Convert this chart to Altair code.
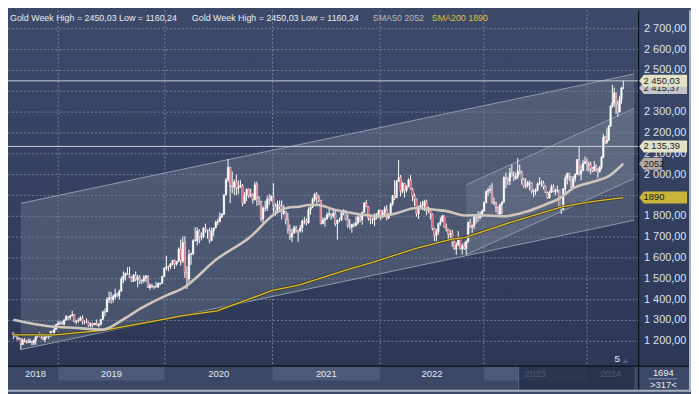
import altair as alt
import numpy as np
import pandas as pd

# ---------------- data: weekly gold candles (week starting Monday) ----------------
first_week = "2018-07-16"
first_open = 1241

close_2018 = [1231,1223,1214,1212,1184,1206,1201,1196,1194,1199,1192,1203,1222,1227,1233,1233,1209,1222,1223,1222,1248,1238,1257,1281,1285]
high_2018 = [1242,1235,1228,1220,1215,1214,1215,1206,1212,1212,1204,1209,1233,1233,1243,1240,1237,1226,1230,1229,1250,1251,1266,1283,1298]
low_2018 = [1211,1220,1204,1205,1160.24,1183,1194,1189,1191,1194,1180,1182,1183,1217,1222,1211,1205,1196,1214,1211,1221,1234,1237,1256,1276]

close_2019 = [1288,1282,1303,1318,1314,1322,1328,1294,1298,1302,1313,1292,1291,1290,1276,1286,1279,1286,1277,1283,1305,1341,1341,1400,1409,1399,1415,1426,1419,1440,1497,1513,1526,1520,1507,1488,1517,1497,1505,1489,1490,1505,1514,1458,1468,1462,1464,1460,1476,1479,1510,1552]
high_2019 = [1297,1298,1304,1326,1320,1326,1346,1330,1299,1311,1320,1324,1300,1310,1295,1288,1289,1289,1304,1286,1306,1348,1358,1411,1439,1437,1425,1453,1434,1449,1510,1535,1530,1555,1557,1512,1523,1535,1519,1517,1498,1518,1516,1515,1478,1476,1466,1485,1483,1481,1514,1553]
low_2019 = [1279,1280,1276,1298,1302,1302,1320,1290,1281,1289,1298,1281,1281,1287,1270,1266,1267,1278,1274,1266,1275,1305,1320,1340,1384,1381,1385,1402,1412,1400,1440,1480,1491,1518,1503,1484,1485,1488,1459,1475,1474,1480,1485,1456,1446,1456,1450,1457,1457,1469,1476,1508]

close_2020 = [1557,1557,1571,1589,1570,1584,1643,1585,1674,1530,1499,1617,1620,1683,1683,1729,1700,1702,1743,1734,1730,1684,1730,1744,1771,1775,1798,1810,1902,1975,2035,1944,1940,1964,1934,1940,1950,1862,1900,1930,1899,1902,1879,1951,1889,1871,1788,1839,1839,1881,1877,1895]
high_2020 = [1611,1563,1576,1590,1592,1585,1650,1689,1703,1704,1560,1640,1626,1690,1747,1747,1738,1722,1748,1765,1736,1745,1745,1746,1779,1789,1818,1815,1906,1984,2075,2038,2015,1977,2000,1973,1973,1955,1917,1933,1933,1932,1911,1965,1966,1897,1875,1848,1875,1897,1907,1901]
low_2020 = [1540,1536,1546,1564,1547,1563,1580,1563,1576,1504,1451,1482,1567,1613,1680,1660,1670,1683,1694,1721,1693,1670,1680,1704,1742,1757,1771,1791,1806,1902,1964,1863,1911,1902,1902,1906,1936,1848,1860,1873,1888,1890,1860,1876,1850,1854,1775,1764,1823,1825,1856,1870]

close_2021 = [1850,1828,1856,1848,1814,1824,1784,1734,1700,1719,1745,1732,1729,1744,1777,1777,1768,1831,1844,1881,1905,1891,1877,1764,1781,1787,1808,1812,1802,1814,1763,1780,1781,1817,1827,1787,1754,1750,1761,1757,1768,1796,1783,1818,1864,1846,1792,1783,1784,1798,1811,1829]
high_2021 = [1959,1863,1875,1876,1876,1855,1824,1816,1760,1740,1755,1755,1733,1758,1784,1797,1790,1843,1846,1890,1913,1916,1903,1878,1795,1795,1818,1834,1813,1832,1832,1784,1795,1823,1834,1827,1809,1787,1764,1770,1800,1814,1810,1823,1868,1877,1849,1808,1793,1815,1815,1831]
low_2021 = [1817,1803,1826,1832,1785,1806,1761,1717,1687,1676,1718,1720,1677,1721,1723,1761,1756,1765,1808,1839,1870,1855,1866,1761,1762,1750,1784,1795,1784,1791,1753,1688,1772,1778,1805,1781,1745,1737,1721,1746,1750,1760,1771,1759,1817,1845,1778,1762,1763,1753,1785,1789]

close_2022 = [1797,1817,1835,1791,1808,1860,1898,1889,1966,1988,1921,1958,1925,1946,1975,1931,1897,1883,1811,1846,1853,1851,1872,1840,1827,1811,1742,1708,1727,1766,1775,1802,1747,1737,1712,1717,1675,1643,1661,1695,1644,1657,1645,1681,1771,1751,1755,1797,1797,1793,1798,1824]
high_2022 = [1831,1830,1848,1854,1815,1865,1902,1974,1974,2070,1998,1966,1960,1948,1982,1998,1936,1910,1885,1850,1870,1874,1879,1880,1847,1834,1814,1745,1739,1767,1795,1807,1803,1765,1740,1735,1735,1688,1675,1729,1697,1668,1675,1683,1774,1787,1760,1810,1810,1824,1823,1833]
low_2022 = [1782,1792,1805,1780,1788,1807,1850,1878,1889,1966,1895,1910,1890,1915,1939,1928,1872,1850,1798,1787,1837,1829,1825,1805,1816,1784,1732,1681,1680,1711,1754,1773,1745,1727,1688,1691,1654,1639,1615,1659,1640,1617,1638,1616,1671,1744,1721,1740,1765,1773,1785,1797]

close_2023 = [1865,1920,1926,1928,1865,1865,1842,1811,1856,1868,1988,1978,1969,2007,1993,1983,1990,2017,2010,1977,1946,1948,1962,1958,1921,1919,1925,1955,1961,1959,1943,1914,1889,1915,1940,1919,1924,1925,1849,1833,1932,1982,2006,1992,1940,1981,2001,2072,2004,2019,2053,2062]
high_2023 = [1870,1922,1937,1949,1959,1890,1870,1847,1859,1871,1990,2009,1987,2032,2048,2015,2009,2079,2048,2019,1985,1983,1970,1972,1963,1930,1935,1963,1987,1974,1970,1948,1918,1923,1953,1953,1932,1947,1926,1849,1934,1997,2009,2009,1993,1993,2007,2075,2135.39,2047,2071,2088]
low_2023 = [1823,1864,1896,1911,1861,1853,1819,1809,1804,1810,1866,1935,1949,1950,1992,1969,1975,1978,2000,1952,1937,1932,1938,1925,1910,1893,1902,1920,1950,1942,1928,1911,1885,1884,1912,1915,1901,1913,1846,1810,1833,1908,1953,1970,1932,1931,1965,2001,1995,1973,2016,2053]

close_2024 = [2049,2049,2029,2018,2039,2024,2013,2035,2083,2179,2156,2165,2233,2329,2344,2392,2338,2301,2360,2415,2415.37]
high_2024 = [2078,2062,2062,2036,2065,2049,2031,2041,2088,2195,2185,2222,2236,2331,2431,2417,2394,2354,2378,2422,2450.03]
low_2024 = [2017,2013,2002,2011,2016,2015,1984,2011,2024,2079,2146,2146,2164,2229,2320,2324,2291,2277,2298,2340,2410]

# moving averages
sma50_dates = ["2018-07-16","2018-11-26","2019-02-11","2019-06-03","2019-08-09","2019-10-15","2020-01-12","2020-02-26",
               "2020-06-27","2020-10-15","2021-01-12","2021-02-25","2021-03-31","2021-05-03","2021-06-05","2021-07-30",
               "2021-09-12","2022-01-01","2022-02-27","2022-05-07","2022-07-15","2022-08-19","2022-10-26","2022-12-23",
               "2023-03-13","2023-06-02","2023-08-10","2023-09-26","2023-11-11","2024-01-19","2024-03-28","2024-05-20"]
sma50_vals = [1303,1272,1266,1256,1303,1361,1424,1450,1596,1698,1815,1842,1846,1854,1854,1831,
              1819,1800,1815,1840,1831,1826,1804,1805,1800,1823,1858,1886,1933,1964,1995,2052]
sma200_dates = ["2018-07-16","2018-12-18","2019-06-03","2020-01-01","2020-02-26","2020-06-27","2021-01-01","2021-03-31",
                "2021-09-12","2021-12-09","2022-05-07","2022-09-11","2022-10-26","2023-04-17","2023-10-07","2024-01-19","2024-05-20"]
sma200_vals = [1231,1231,1252,1306,1322,1346,1444,1470,1544,1580,1646,1690,1698,1776,1846,1870,1890]

price_ticks = [1200,1300,1400,1500,1600,1700,1800,1900,2000,2100,2200,2300,2400,2500,2600,2700]
hidden_ticks = [1900, 2400]   # labels covered by the price tags
year_bounds = ["2018-07-13","2019-01-01","2020-01-01","2021-01-01","2022-01-01","2023-01-01","2024-01-01","2024-07-01"]
year_names = ["2018","2019","2020","2021","2022","2023","2024"]

big_chan_dates = ["2018-08-13","2024-07-01"]
big_chan_low = [1160.24, 1781]
big_chan_high = [1862, 2483]
small_chan_dates = ["2022-10-31","2024-07-01"]
small_chan_low = [1616, 1981]
small_chan_high = [1951, 2318]

nav_dates = ["2023-05-04","2024-07-01"]
corner_texts = ["1694", ">317<"]
marker_text = "5"

# ---------------- layout ----------------
W, H = 638, 360
PR, PB = 53, 26
TW, TH = W + PR, H + PB
FONT = "Liberation Sans"
EPOCH = pd.Timestamp("1970-01-01")

def days(s):
    return float((pd.Timestamp(s) - EPOCH) / pd.Timedelta(days=1))

def de(v):
    return f"{v:,.2f}".replace(",", " ").replace(".", ",")

def dc(v):
    return f"{v:.2f}".replace(".", ",")

closes = close_2018 + close_2019 + close_2020 + close_2021 + close_2022 + close_2023 + close_2024
highs = high_2018 + high_2019 + high_2020 + high_2021 + high_2022 + high_2023 + high_2024
lows = low_2018 + low_2019 + low_2020 + low_2021 + low_2022 + low_2023 + low_2024
dates = pd.date_range(first_week, periods=len(closes), freq="7D")
opens = [first_open] + closes[:-1]

df = pd.DataFrame({"t": [days(d) for d in dates], "open": opens, "high": highs, "low": lows, "close": closes})
df["top"] = df[["open", "close"]].max(axis=1)
df["bot"] = df[["open", "close"]].min(axis=1)
df["high"] = df[["high", "top"]].max(axis=1)
df["low"] = df[["low", "bot"]].min(axis=1)
df["fill"] = np.where(df["close"] >= df["open"], "#ffffff", "#c8405c")

top_high = max(highs)
low_min = min(lows)
last_close = closes[-1]
dec_spike = max(high_2023)
sma50_last = sma50_vals[-1]
sma200_last = sma200_vals[-1]

XS = alt.Scale(type="linear", domain=[days(s) for s in year_bounds],
               range=[0, 50.8, 158.7, 267.6, 376.5, 481.4, 585.8, 638], nice=False, zero=False)
YS = alt.Scale(domain=[1081, 2789], nice=False, zero=False)

def T(f):
    return alt.X(f"{f}:Q", scale=XS, axis=None)

def Q(f):
    return alt.Y(f"{f}:Q", scale=YS, axis=None)

one = pd.DataFrame({"k": [0]})
layers = []

# background gradient
layers.append(alt.Chart(one).mark_rect(
    color=alt.LinearGradient(gradient="linear",
                             stops=[alt.GradientStop(color="#3d4969", offset=0),
                                    alt.GradientStop(color="#2c3855", offset=1)],
                             x1=0, x2=0, y1=0, y2=1)
).encode(x=alt.value(0), x2=alt.value(TW), y=alt.value(0), y2=alt.value(H)))

# channels
big_df = pd.DataFrame({"t": [days(s) for s in big_chan_dates], "lo": big_chan_low, "hi": big_chan_high})
small_df = pd.DataFrame({"t": [days(s) for s in small_chan_dates], "lo": small_chan_low, "hi": small_chan_high})
layers.append(alt.Chart(big_df).mark_area(color="#ffffff", opacity=0.13).encode(x=T("t"), y=Q("lo"), y2="hi:Q"))
layers.append(alt.Chart(small_df).mark_area(color="#ffffff", opacity=0.09).encode(x=T("t"), y=Q("lo"), y2="hi:Q"))

# grid
layers.append(alt.Chart(pd.DataFrame({"v": price_ticks})).mark_rule(
    color="#737e99", strokeDash=[2, 2], strokeWidth=1).encode(y=Q("v"), x=alt.value(0), x2=alt.value(W)))
layers.append(alt.Chart(pd.DataFrame({"t": [days(s) for s in year_bounds[1:-1]]})).mark_rule(
    color="#737e99", strokeDash=[2, 2], strokeWidth=1).encode(x=T("t"), y=alt.value(0), y2=alt.value(H)))

# channel lines
chan_lines = pd.DataFrame({
    "x0": [days(big_chan_dates[0])] * 2 + [days(small_chan_dates[0])] * 2,
    "x1": [days(big_chan_dates[1])] * 2 + [days(small_chan_dates[1])] * 2,
    "y0": [big_chan_low[0], big_chan_high[0], small_chan_low[0], small_chan_high[0]],
    "y1": [big_chan_low[1], big_chan_high[1], small_chan_low[1], small_chan_high[1]],
})
layers.append(alt.Chart(chan_lines).mark_rule(color="#9299a9", strokeWidth=1).encode(
    x=T("x0"), x2="x1:Q", y=Q("y0"), y2="y1:Q"))

# horizontal price lines
layers.append(alt.Chart(pd.DataFrame({"v": [top_high, dec_spike]})).mark_rule(
    color="#c9ced6", strokeWidth=1).encode(y=Q("v"), x=alt.value(0), x2=alt.value(W)))

# candles
layers.append(alt.Chart(df).mark_rule(color="#ffffff", strokeWidth=1).encode(x=T("t"), y=Q("low"), y2="high:Q"))
layers.append(alt.Chart(df).mark_bar(size=1.5, stroke="#ffffff", strokeWidth=0.5).encode(
    x=T("t"), y=Q("top"), y2="bot:Q", fill=alt.Fill("fill:N", scale=None)))

# moving averages
s200 = pd.DataFrame({"t": [days(s) for s in sma200_dates], "v": sma200_vals})
s50 = pd.DataFrame({"t": [days(s) for s in sma50_dates], "v": sma50_vals})
layers.append(alt.Chart(s200).mark_line(color="#3b3826", strokeWidth=3, opacity=0.85).encode(x=T("t"), y=Q("v")))
layers.append(alt.Chart(s200).mark_line(color="#dcbd2e", strokeWidth=1.3).encode(x=T("t"), y=Q("v")))
layers.append(alt.Chart(s50).mark_line(color="#cec6bd", strokeWidth=2.6, interpolate="monotone").encode(x=T("t"), y=Q("v")))

# bottom year bands
b_s = [days(s) for s in year_bounds[:-1]]
b_e = [days(s) for s in year_bounds[1:]]
bands = pd.DataFrame({"s": b_s, "e": b_e, "name": year_names,
                      "mid": [(a + b) / 2 for a, b in zip(b_s, b_e)],
                      "fill": ["#3b4865", "#4d5a77"] * 3 + ["#3b4865"]})
layers.append(alt.Chart(bands).mark_rect().encode(
    x=T("s"), x2="e:Q", y=alt.value(H), y2=alt.value(H + 14.5), fill=alt.Fill("fill:N", scale=None)))
layers.append(alt.Chart(bands).mark_text(font=FONT, fontSize=9.5, color="#e4e9f2", baseline="middle").encode(
    x=T("mid"), y=alt.value(H + 7.8), text="name:N"))

# navigator window
nav = pd.DataFrame({"s": [days(nav_dates[0])], "e": [days(nav_dates[1])]})
layers.append(alt.Chart(nav).mark_rect(color="#222d48", opacity=0.78).encode(
    x=T("s"), x2="e:Q", y=alt.value(H), y2=alt.value(TH)))
layers.append(alt.Chart(nav).mark_rule(color="#5a6682", strokeWidth=1).encode(
    x=T("s"), y=alt.value(H), y2=alt.value(TH)))

# black axis lines
layers.append(alt.Chart(one).mark_rule(color="#0b101b", strokeWidth=1.2).encode(
    x=alt.value(W), y=alt.value(0), y2=alt.value(TH)))
layers.append(alt.Chart(one).mark_rule(color="#0b101b", strokeWidth=1.2).encode(
    y=alt.value(H), x=alt.value(0), x2=alt.value(TW)))

# price axis labels (those fully hidden under tags in the reference are left out)
shown_ticks = [v for v in price_ticks if v not in hidden_ticks]
ylab = pd.DataFrame({"v": shown_ticks, "lab": [de(v) for v in shown_ticks]})
layers.append(alt.Chart(ylab).mark_text(font=FONT, align="left", baseline="middle", fontSize=11, color="#dce3ef").encode(
    x=alt.value(W + 5.5), y=Q("v"), text="lab:N"))

# price tags
LONG = "M -1 0 L -0.8 -0.25 L 1 -0.25 L 1 0.25 L -0.8 0.25 Z"
SHORT = "M -1 0 L -0.6 -0.53 L 1 -0.53 L 1 0.53 L -0.6 0.53 Z"

def tag(v, label, fill, long=True):
    d = pd.DataFrame({"v": [v], "lab": [label]})
    if long:
        shape, size, cx = LONG, 48.5 ** 2, W + 0.5 + 24.25
    else:
        shape, size, cx = SHORT, 23 ** 2, W + 0.5 + 11.5
    mk = alt.Chart(d).mark_point(shape=shape, filled=True, size=size, color=fill, opacity=1, strokeWidth=0).encode(
        x=alt.value(cx), y=Q("v"))
    tx = alt.Chart(d).mark_text(font=FONT, align="left", baseline="middle", fontSize=9.5, color="#1b1b1b").encode(
        x=alt.value(W + 5), y=Q("v"), text="lab:N")
    return [mk, tx]

layers += tag(last_close, de(last_close), "#c2c6cc")
layers += tag(top_high, de(top_high), "#e2e2c9")
layers += tag(dec_spike, de(dec_spike), "#e2e2c9")
layers += tag(sma50_last, str(sma50_last), "#b3aba3", long=False)
layers += tag(sma200_last, str(sma200_last), "#cbb43a")

# header texts
head = f"Gold Week High = {dc(top_high)} Low = {dc(low_min)}"
for xpos, txt, col in [(2, head, "#e9edf5"), (186, head, "#e9edf5"),
                       (369, f"SMA50 {sma50_last}", "#bdb8b2"), (428.7, f"SMA200 {sma200_last}", "#dcc13c")]:
    layers.append(alt.Chart(pd.DataFrame({"lab": [txt]})).mark_text(
        font=FONT, align="left", baseline="middle", fontSize=9, color=col).encode(
        x=alt.value(xpos), y=alt.value(7.5), text="lab:N"))

# bottom-right info
layers.append(alt.Chart(pd.DataFrame({"lab": [corner_texts[0]]})).mark_text(
    font=FONT, fontSize=9.5, color="#e9edf5", baseline="middle").encode(x=alt.value(663), y=alt.value(367), text="lab:N"))
layers.append(alt.Chart(pd.DataFrame({"lab": [corner_texts[1]]})).mark_text(
    font=FONT, fontSize=9.5, color="#e9edf5", baseline="middle").encode(x=alt.value(663), y=alt.value(379.5), text="lab:N"))
layers.append(alt.Chart(one).mark_rule(color="#8791a8", strokeWidth=1).encode(
    y=alt.value(373), x=alt.value(648), x2=alt.value(677)))
layers.append(alt.Chart(pd.DataFrame({"lab": [marker_text]})).mark_text(
    font=FONT, fontSize=10, color="#eef1f6", baseline="middle").encode(x=alt.value(616.4), y=alt.value(353), text="lab:N"))
layers.append(alt.Chart(one).mark_point(shape="triangle-up", filled=True, size=30, color="#4f5b77", opacity=1).encode(
    x=alt.value(624.7), y=alt.value(354.5)))

# frame
layers.append(alt.Chart(one).mark_rect(color="#aab3c2").encode(
    x=alt.value(TW - 2), x2=alt.value(TW), y=alt.value(0), y2=alt.value(TH)))
layers.append(alt.Chart(one).mark_rect(color="#aab3c2").encode(
    x=alt.value(0), x2=alt.value(TW), y=alt.value(TH - 2), y2=alt.value(TH)))

chart = alt.layer(*layers).properties(
    width=W, height=H,
    autosize=alt.AutoSizeParams(type="none"),
    padding={"left": 0, "top": 0, "right": PR, "bottom": PB},
    background="#3c4966",
).configure(font=FONT).configure_view(strokeWidth=0)

chart.save("out.html", embed_options={"renderer": "svg", "actions": False})
